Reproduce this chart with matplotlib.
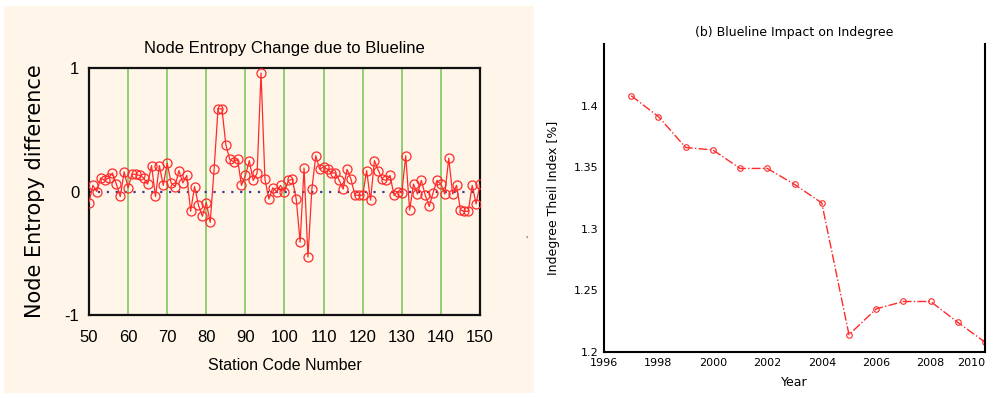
"""
Two-panel figure: node entropy change (left) and indegree Theil index by year (right).

Saves:
  out.png
"""
import numpy as np
import matplotlib
matplotlib.use("Agg")
import matplotlib.pyplot as plt
from matplotlib.patches import Rectangle
from matplotlib.ticker import FixedLocator

plt.rcParams["axes.unicode_minus"] = False

CREAM = "#fff6e9"
RED = "#ff2a2a"
GREEN = "#72c455"
NAVY = "#3a3a96"
NARROW = ["Liberation Sans Narrow", "Liberation Sans", "DejaVu Sans"]

# --- left panel data -------------------------------------------------------
stations = np.arange(50, 151)
entropy_diff = [
    -0.09, 0.05, 0.00, 0.11, 0.09, 0.11, 0.15, 0.06, -0.04, 0.16,   # 50-59
    0.03, 0.14, 0.14, 0.13, 0.11, 0.06, 0.21, -0.04, 0.21, 0.05,    # 60-69
    0.23, 0.07, 0.04, 0.17, 0.07, 0.13, -0.16, 0.04, -0.11, -0.20,  # 70-79
    -0.09, -0.25, 0.18, 0.67, 0.67, 0.38, 0.26, 0.24, 0.26, 0.05,   # 80-89
    0.13, 0.25, 0.09, 0.15, 0.96, 0.10, -0.06, 0.03, 0.00, 0.05,    # 90-99
    0.00, 0.09, 0.10, -0.06, -0.41, 0.19, -0.53, 0.02, 0.29, 0.18,  # 100-109
    0.20, 0.18, 0.15, 0.15, 0.09, 0.02, 0.18, 0.10, -0.03, -0.03,   # 110-119
    -0.03, 0.17, -0.07, 0.25, 0.17, 0.10, 0.09, 0.13, -0.03, 0.00,  # 120-129
    -0.01, 0.29, -0.15, 0.06, -0.02, 0.09, -0.03, -0.12, -0.01, 0.09,  # 130-139
    0.06, -0.02, 0.27, -0.02, 0.05, -0.15, -0.16, -0.16, 0.05, -0.10,  # 140-149
    0.06,                                                             # 150
]
left_xticks = np.arange(50, 151, 10)
left_yticks = [-1, 0, 1]

# --- right panel data ------------------------------------------------------
years = np.arange(1997, 2011)
theil = [1.408, 1.391, 1.366, 1.364, 1.349, 1.349, 1.336,
         1.321, 1.214, 1.235, 1.241, 1.241, 1.224, 1.208]
right_xticks = np.arange(1996, 2011, 2)
right_yticks = [1.2, 1.25, 1.3, 1.35, 1.4]
marked_xticks = [2000, 2002, 2004, 2006]
marked_yticks = [1.3, 1.35]

fig = plt.figure(figsize=(9.93, 3.98), dpi=100)
fig.patch.set_facecolor("white")
fig.patches.append(Rectangle((0.004, 0.013), 0.534, 0.972, transform=fig.transFigure,
                             facecolor=CREAM, edgecolor="none", zorder=-10))

# ---------------- left panel ----------------
ax = fig.add_axes([0.0896, 0.2085, 0.3938, 0.6205])
ax.set_facecolor(CREAM)
for xv in left_xticks[1:]:
    ax.axvline(xv, color=GREEN, lw=1.1, zorder=1)
ax.axhline(0, color=NAVY, lw=1.6, ls=(0, (1, 3)), zorder=2)
ax.plot(stations, entropy_diff, color=RED, lw=0.9, marker="o", ms=6.5,
        mfc="none", mec=RED, mew=0.9, zorder=3)
ax.set_xlim(50, 150)
ax.set_ylim(-1, 1)
ax.set_xticks(left_xticks)
ax.set_yticks(left_yticks)
ax.tick_params(axis="x", length=0, pad=11, labelsize=12)
ax.tick_params(axis="y", length=0, pad=7, labelsize=12)
for lab in ax.get_xticklabels() + ax.get_yticklabels():
    lab.set_family(NARROW)
for s in ax.spines.values():
    s.set_linewidth(1.6)
    s.set_color("#111111")
ax.set_title("Node Entropy Change due to Blueline", fontsize=12, family=NARROW, pad=11)
ax.set_xlabel("Station Code Number", fontsize=11.5, family=NARROW, labelpad=9)
ax.set_ylabel("Node Entropy difference", fontsize=15, labelpad=14)

# ---------------- right panel ----------------
ax2 = fig.add_axes([0.6083, 0.1156, 0.3837, 0.7738])
ax2.set_facecolor("white")
ax2.plot(years, theil, color=RED, lw=1.0, ls="-.", marker="o", ms=4,
         mfc="none", mec=RED, mew=0.8)
ax2.set_xlim(1996, 2010)
ax2.set_ylim(1.2, 1.45)
ax2.set_xticks(right_xticks)
ax2.set_yticks(right_yticks)
ax2.set_yticklabels(["1.2", "1.25", "1.3", "1.35", "1.4"])
ax2.tick_params(which="major", length=0, labelsize=8, pad=4)
ax2.get_xticklabels()[-1].set_horizontalalignment("right")
ax2.xaxis.set_minor_locator(FixedLocator(marked_xticks))
ax2.yaxis.set_minor_locator(FixedLocator(marked_yticks))
ax2.tick_params(which="minor", direction="in", length=7, width=1.2,
                top=True, right=True, bottom=True, left=True)
ax2.spines["top"].set_visible(False)
for side in ["left", "right", "bottom"]:
    ax2.spines[side].set_linewidth(1.5)
ax2.set_title("(b) Blueline Impact on Indegree", fontsize=9, pad=6)
ax2.set_xlabel("Year", fontsize=9, labelpad=6)
ax2.set_ylabel("Indegree Theil Index [%]", fontsize=9, labelpad=10)

fig.text(0.529, 0.39, "'", fontsize=6, color="#444444")

fig.savefig("out.png", dpi=100)
